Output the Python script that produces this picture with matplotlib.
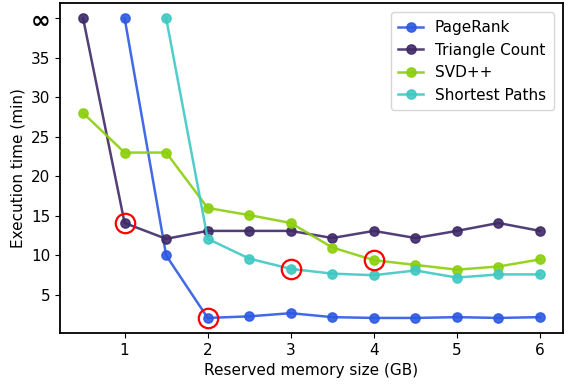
import matplotlib
matplotlib.use("Agg")
import matplotlib.pyplot as plt

# Datos (el valor 40 representa "infinito")
memoria = [0.5, 1, 1.5, 2, 2.5, 3, 3.5, 4, 4.5, 5, 5.5, 6]

pagerank = [None, 40, 10, 2.1, 2.3, 2.7, 2.2, 2.1, 2.1, 2.2, 2.1, 2.2]
triangle = [40, 14.1, 12.1, 13.1, 13.1, 13.1, 12.2, 13.1, 12.2, 13.1, 14.1, 13.1]
svdpp = [28, 23, 23, 16, 15.1, 14.1, 11, 9.4, 8.8, 8.2, 8.6, 9.5]
shortest = [None, None, 40, 12.1, 9.6, 8.3, 7.7, 7.5, 8.1, 7.2, 7.6, 7.6]

series = ["PageRank", "Triangle Count", "SVD++", "Shortest Paths"]
colores = ["#2d5ae3", "#3f2a68", "#8ccf0c", "#3fc8c2"]

# Puntos resaltados con circulo rojo
resaltados_x = [1, 2, 3, 4]
resaltados_y = [14.1, 2.1, 8.3, 9.4]

yticks = [5, 10, 15, 20, 25, 30, 35, 40]
ytick_labels = ["5", "10", "15", "20", "25", "30", "35", "∞"]

fig = plt.figure(figsize=(5.68, 3.84), dpi=100)
ax = fig.add_axes([0.106, 0.133, 0.885, 0.859])

for nombre, datos, color in zip(series, [pagerank, triangle, svdpp, shortest], colores):
    xs = [x for x, y in zip(memoria, datos) if y is not None]
    ys = [y for y in datos if y is not None]
    ax.plot(xs, ys, marker='o', linestyle='-', color=color, linewidth=1.8,
            markersize=6.5, markeredgecolor=color, markeredgewidth=1.2,
            alpha=0.9, label=nombre)

ax.plot(resaltados_x, resaltados_y, linestyle='none', marker='o', markersize=14,
        markerfacecolor='none', markeredgecolor='red', markeredgewidth=1.6)

ax.set_yticks(yticks)
ax.set_yticklabels(ytick_labels)
ax.set_xticks([1, 2, 3, 4, 5, 6])
ax.tick_params(labelsize=11)
# el simbolo de infinito se ve mas grande y grueso en el original
inf_label = ax.get_yticklabels()[-1]
inf_label.set_fontsize(17)
inf_label.set_fontweight('bold')

ax.set_xlabel('Reserved memory size (GB)', fontsize=11)
ax.set_ylabel('Execution time (min)', fontsize=11)
for lado in ax.spines.values():
    lado.set_linewidth(1.3)

ax.legend(loc='upper right', fontsize=11, handlelength=1.6, borderpad=0.5,
          labelspacing=0.5, borderaxespad=0.6)

fig.savefig("out.png", dpi=100)
